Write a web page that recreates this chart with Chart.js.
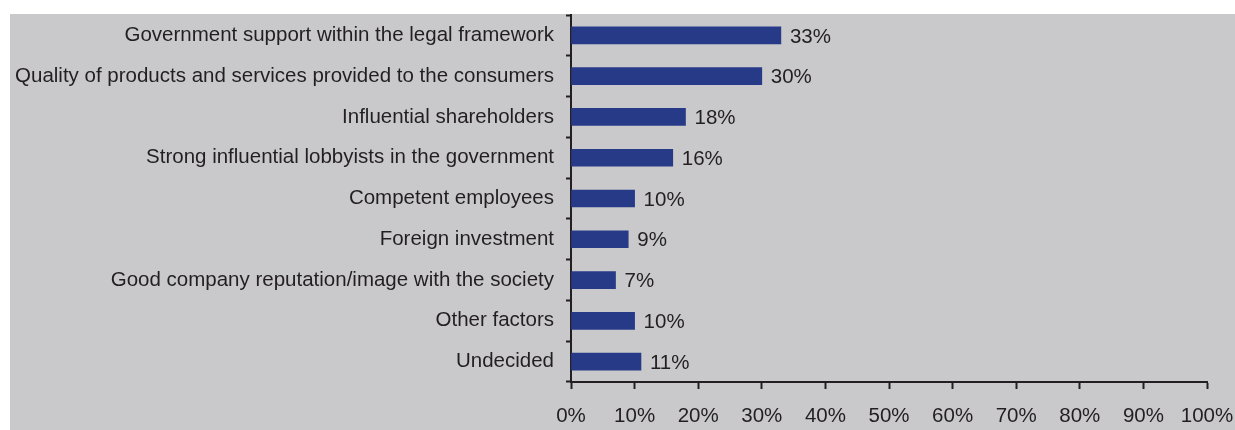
<!DOCTYPE html>
<html>
<head>
<meta charset="utf-8">
<script src="https://cdn.jsdelivr.net/npm/chart.js@4/dist/chart.umd.min.js"></script>
<style>
  html, body { margin: 0; padding: 0; background: #ffffff; }
  #wrap { width: 1235px; height: 430px; position: relative; }
</style>
</head>
<body>
<div id="wrap"><canvas id="c" width="1235" height="430"></canvas></div>
<script>
// Factors named by respondents, share of answers (%)
const factors = [
  'Government support within the legal framework',
  'Quality of products and services provided to the consumers',
  'Influential shareholders',
  'Strong influential lobbyists in the government',
  'Competent employees',
  'Foreign investment',
  'Good company reputation/image with the society',
  'Other factors',
  'Undecided'
];
const shares = [33, 30, 18, 16, 10, 9, 7, 10, 11];
const axisTicks = [0, 10, 20, 30, 40, 50, 60, 70, 80, 90, 100];

const INK = '#231f20';
const BAR = '#263a87';
const PANEL = '#c9c9cb';
const FONT = "'Liberation Sans', Arial, sans-serif";
const FONT_SIZE = 20.5;

// grey panel behind the plot
const panelBg = {
  id: 'panelBg',
  beforeDraw(chart) {
    const ctx = chart.ctx;
    ctx.save();
    ctx.fillStyle = '#ffffff';
    ctx.fillRect(0, 0, chart.width, chart.height);
    ctx.fillStyle = PANEL;
    ctx.fillRect(10, 14, chart.width - 10, chart.height - 14);
    ctx.restore();
  }
};

// value label at the end of each bar
const valueLabels = {
  id: 'valueLabels',
  afterDatasetsDraw(chart) {
    const ctx = chart.ctx;
    const meta = chart.getDatasetMeta(0);
    ctx.save();
    ctx.font = FONT_SIZE + 'px ' + FONT;
    ctx.fillStyle = INK;
    ctx.textAlign = 'left';
    ctx.textBaseline = 'middle';
    meta.data.forEach((bar, i) => {
      ctx.fillText(shares[i] + '%', bar.x + 9, bar.y + 1.5);
    });
    ctx.restore();
  }
};

new Chart(document.getElementById('c'), {
  type: 'bar',
  data: {
    labels: factors,
    datasets: [{
      data: shares,
      backgroundColor: BAR,
      borderWidth: 0,
      barThickness: 17
    }]
  },
  options: {
    indexAxis: 'y',
    responsive: false,
    animation: false,
    devicePixelRatio: 1,
    layout: { padding: { top: 15, right: 28, bottom: 0, left: 0 } },
    plugins: {
      legend: { display: false },
      tooltip: { enabled: false }
    },
    scales: {
      x: {
        min: 0,
        max: 100,
        afterBuildTicks(scale) {
          scale.ticks = axisTicks.map(v => ({ value: v }));
        },
        afterFit(scale) {
          scale.height = 48;
          scale.paddingLeft = 0;
          scale.paddingRight = 0;
        },
        grid: {
          drawOnChartArea: false,
          drawTicks: true,
          tickLength: 7,
          tickWidth: 2,
          tickColor: INK
        },
        border: { display: true, color: INK, width: 2 },
        ticks: {
          padding: 15,
          color: INK,
          font: { size: FONT_SIZE, family: FONT },
          maxRotation: 0,
          callback: v => v + '%'
        }
      },
      y: {
        afterFit(scale) {
          scale.width = 571;
          scale.paddingTop = 0;
          scale.paddingBottom = 0;
        },
        grid: {
          offset: true,
          drawOnChartArea: false,
          drawTicks: true,
          tickLength: 5,
          tickWidth: 2,
          tickColor: INK
        },
        border: { display: true, color: INK, width: 2 },
        ticks: {
          padding: 12,
          color: INK,
          font: { size: FONT_SIZE, family: FONT },
          autoSkip: false
        }
      }
    }
  },
  plugins: [panelBg, valueLabels]
});
</script>
</body>
</html>
